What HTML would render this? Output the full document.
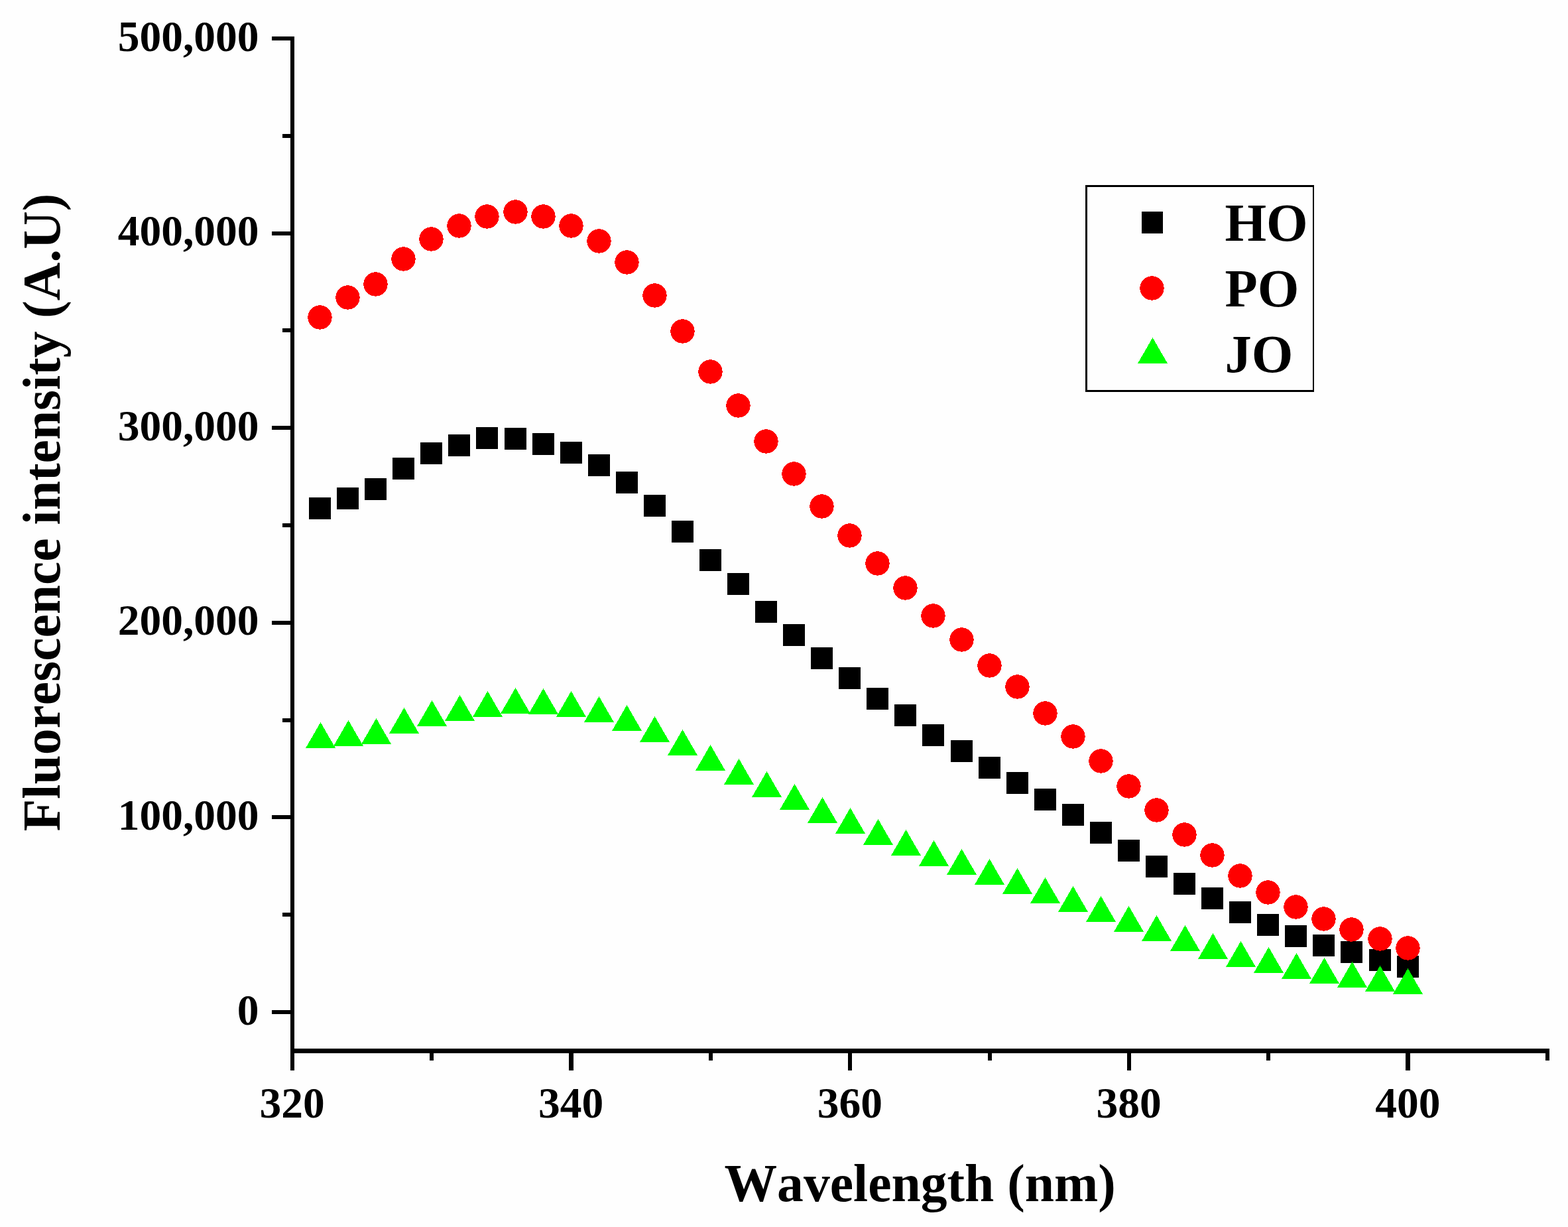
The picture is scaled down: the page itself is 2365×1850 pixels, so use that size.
<!DOCTYPE html>
<html><head><meta charset="utf-8"><style>
html,body{margin:0;padding:0;background:#fefefe;}
body{width:2365px;height:1850px;overflow:hidden;}
svg{display:block;}
text{font-family:"Liberation Serif","Times New Roman",serif;font-weight:bold;fill:#000;font-kerning:none;}
.t{font-size:65.5px;}
.ti{font-size:79.6px;}
.lg{font-size:80.5px;}
</style></head><body>
<svg width="2365" height="1850" viewBox="0 0 2365 1850">
<rect width="2365" height="1850" fill="#fefefe"/>
<rect x="438" y="55" width="6" height="1559" fill="#000"/>
<rect x="438" y="1581" width="1899" height="7" fill="#000"/>
<rect x="410" y="1523" width="30" height="6" fill="#000"/>
<rect x="410" y="1229" width="30" height="6" fill="#000"/>
<rect x="410" y="936" width="30" height="6" fill="#000"/>
<rect x="410" y="642" width="30" height="6" fill="#000"/>
<rect x="410" y="349" width="30" height="6" fill="#000"/>
<rect x="410" y="55" width="30" height="6" fill="#000"/>
<rect x="426" y="1376" width="14" height="6" fill="#000"/>
<rect x="426" y="1083" width="14" height="6" fill="#000"/>
<rect x="426" y="789" width="14" height="6" fill="#000"/>
<rect x="426" y="495" width="14" height="6" fill="#000"/>
<rect x="426" y="202" width="14" height="6" fill="#000"/>
<rect x="438" y="1584" width="6" height="30" fill="#000"/>
<rect x="858" y="1584" width="7" height="30" fill="#000"/>
<rect x="1279" y="1584" width="6" height="30" fill="#000"/>
<rect x="1700" y="1584" width="6" height="30" fill="#000"/>
<rect x="2120" y="1584" width="7" height="30" fill="#000"/>
<rect x="648" y="1584" width="6" height="15" fill="#000"/>
<rect x="1069" y="1584" width="6" height="15" fill="#000"/>
<rect x="1490" y="1584" width="6" height="15" fill="#000"/>
<rect x="1910" y="1584" width="6" height="15" fill="#000"/>
<rect x="2331" y="1584" width="6" height="15" fill="#000"/>
<text transform="translate(390.5,1544.6) scale(1,1.0)" text-anchor="end" class="t">0</text>
<text transform="translate(390.5,1251) scale(1,1.0)" text-anchor="end" class="t">100,000</text>
<text transform="translate(390.5,957.4) scale(1,1.0)" text-anchor="end" class="t">200,000</text>
<text transform="translate(390.5,663.8) scale(1,1.0)" text-anchor="end" class="t">300,000</text>
<text transform="translate(390.5,370.2) scale(1,1.0)" text-anchor="end" class="t">400,000</text>
<text transform="translate(390.5,76.6) scale(1,1.0)" text-anchor="end" class="t">500,000</text>
<text transform="translate(440.5,1684.8) scale(1,1.0)" text-anchor="middle" class="t">320</text>
<text transform="translate(861.2,1684.8) scale(1,1.0)" text-anchor="middle" class="t">340</text>
<text transform="translate(1281.9,1684.8) scale(1,1.0)" text-anchor="middle" class="t">360</text>
<text transform="translate(1702.6,1684.8) scale(1,1.0)" text-anchor="middle" class="t">380</text>
<text transform="translate(2123.3,1684.8) scale(1,1.0)" text-anchor="middle" class="t">400</text>
<text transform="translate(1092.5,1810.5) scale(1,1.0)" class="ti">Wavelength (nm)</text>
<text transform="translate(90,1253.3) rotate(-90)" class="ti">Fluorescence intensity (A.U)</text>
<g shape-rendering="crispEdges">
<rect x="466" y="750" width="33" height="33" fill="#000"/>
<rect x="508" y="735" width="33" height="33" fill="#000"/>
<rect x="550" y="721" width="33" height="33" fill="#000"/>
<rect x="592" y="690" width="33" height="33" fill="#000"/>
<rect x="634" y="667" width="33" height="33" fill="#000"/>
<rect x="676" y="655" width="33" height="33" fill="#000"/>
<rect x="718" y="644" width="33" height="33" fill="#000"/>
<rect x="761" y="645" width="33" height="33" fill="#000"/>
<rect x="803" y="653" width="33" height="33" fill="#000"/>
<rect x="845" y="666" width="33" height="33" fill="#000"/>
<rect x="887" y="685" width="33" height="33" fill="#000"/>
<rect x="929" y="711" width="33" height="33" fill="#000"/>
<rect x="971" y="746" width="33" height="33" fill="#000"/>
<rect x="1013" y="785" width="33" height="33" fill="#000"/>
<rect x="1055" y="828" width="33" height="33" fill="#000"/>
<rect x="1097" y="864" width="33" height="33" fill="#000"/>
<rect x="1139" y="906" width="33" height="33" fill="#000"/>
<rect x="1181" y="941" width="33" height="33" fill="#000"/>
<rect x="1223" y="976" width="33" height="33" fill="#000"/>
<rect x="1265" y="1006" width="33" height="33" fill="#000"/>
<rect x="1307" y="1037" width="33" height="33" fill="#000"/>
<rect x="1349" y="1062" width="33" height="33" fill="#000"/>
<rect x="1391" y="1092" width="33" height="33" fill="#000"/>
<rect x="1434" y="1116" width="33" height="33" fill="#000"/>
<rect x="1476" y="1141" width="33" height="33" fill="#000"/>
<rect x="1518" y="1164" width="33" height="33" fill="#000"/>
<rect x="1560" y="1189" width="33" height="33" fill="#000"/>
<rect x="1602" y="1212" width="33" height="33" fill="#000"/>
<rect x="1644" y="1239" width="33" height="33" fill="#000"/>
<rect x="1686" y="1266" width="33" height="33" fill="#000"/>
<rect x="1728" y="1290" width="33" height="33" fill="#000"/>
<rect x="1770" y="1316" width="33" height="33" fill="#000"/>
<rect x="1812" y="1338" width="33" height="33" fill="#000"/>
<rect x="1854" y="1359" width="33" height="33" fill="#000"/>
<rect x="1896" y="1378" width="33" height="33" fill="#000"/>
<rect x="1938" y="1395" width="33" height="33" fill="#000"/>
<rect x="1980" y="1409" width="33" height="33" fill="#000"/>
<rect x="2022" y="1419" width="33" height="33" fill="#000"/>
<rect x="2065" y="1431" width="33" height="33" fill="#000"/>
<rect x="2107" y="1441" width="33" height="33" fill="#000"/>
<circle cx="482.5" cy="478.5" r="18.2" fill="#f00"/>
<circle cx="524.5" cy="448.5" r="18.2" fill="#f00"/>
<circle cx="566.5" cy="428.5" r="18.2" fill="#f00"/>
<circle cx="608.5" cy="390.5" r="18.2" fill="#f00"/>
<circle cx="650.5" cy="360.5" r="18.2" fill="#f00"/>
<circle cx="692.5" cy="340.5" r="18.2" fill="#f00"/>
<circle cx="734.5" cy="326.5" r="18.2" fill="#f00"/>
<circle cx="777.5" cy="319.5" r="18.2" fill="#f00"/>
<circle cx="819.5" cy="326.5" r="18.2" fill="#f00"/>
<circle cx="861.5" cy="340.5" r="18.2" fill="#f00"/>
<circle cx="903.5" cy="363.5" r="18.2" fill="#f00"/>
<circle cx="945.5" cy="395.5" r="18.2" fill="#f00"/>
<circle cx="987.5" cy="445.5" r="18.2" fill="#f00"/>
<circle cx="1029.5" cy="499.5" r="18.2" fill="#f00"/>
<circle cx="1071.5" cy="560.5" r="18.2" fill="#f00"/>
<circle cx="1113.5" cy="611.5" r="18.2" fill="#f00"/>
<circle cx="1155.5" cy="665.5" r="18.2" fill="#f00"/>
<circle cx="1197.5" cy="714.5" r="18.2" fill="#f00"/>
<circle cx="1239.5" cy="763.5" r="18.2" fill="#f00"/>
<circle cx="1281.5" cy="807.5" r="18.2" fill="#f00"/>
<circle cx="1323.5" cy="849.5" r="18.2" fill="#f00"/>
<circle cx="1365.5" cy="886.5" r="18.2" fill="#f00"/>
<circle cx="1407.5" cy="928.5" r="18.2" fill="#f00"/>
<circle cx="1450.5" cy="964.5" r="18.2" fill="#f00"/>
<circle cx="1492.5" cy="1003.5" r="18.2" fill="#f00"/>
<circle cx="1534.5" cy="1035.5" r="18.2" fill="#f00"/>
<circle cx="1576.5" cy="1075.5" r="18.2" fill="#f00"/>
<circle cx="1618.5" cy="1110.5" r="18.2" fill="#f00"/>
<circle cx="1660.5" cy="1147.5" r="18.2" fill="#f00"/>
<circle cx="1702.5" cy="1185.5" r="18.2" fill="#f00"/>
<circle cx="1744.5" cy="1221.5" r="18.2" fill="#f00"/>
<circle cx="1786.5" cy="1258.5" r="18.2" fill="#f00"/>
<circle cx="1828.5" cy="1289.5" r="18.2" fill="#f00"/>
<circle cx="1870.5" cy="1320.5" r="18.2" fill="#f00"/>
<circle cx="1912.5" cy="1345.5" r="18.2" fill="#f00"/>
<circle cx="1954.5" cy="1367.5" r="18.2" fill="#f00"/>
<circle cx="1996.5" cy="1385.5" r="18.2" fill="#f00"/>
<circle cx="2038.5" cy="1401.5" r="18.2" fill="#f00"/>
<circle cx="2081.5" cy="1415.5" r="18.2" fill="#f00"/>
<circle cx="2123.5" cy="1429.5" r="18.2" fill="#f00"/>
<path d="M483.5 1089L506 1128L461 1128Z" fill="#0f0"/>
<path d="M525.5 1086L548 1125L503 1125Z" fill="#0f0"/>
<path d="M567.5 1083L590 1122L545 1122Z" fill="#0f0"/>
<path d="M609.5 1067L632 1106L587 1106Z" fill="#0f0"/>
<path d="M651.5 1056L674 1095L629 1095Z" fill="#0f0"/>
<path d="M693.5 1048L716 1087L671 1087Z" fill="#0f0"/>
<path d="M735.5 1042L758 1081L713 1081Z" fill="#0f0"/>
<path d="M777.5 1037L800 1076L755 1076Z" fill="#0f0"/>
<path d="M819.5 1038L842 1077L797 1077Z" fill="#0f0"/>
<path d="M861.5 1042L884 1081L839 1081Z" fill="#0f0"/>
<path d="M903.5 1050L926 1089L881 1089Z" fill="#0f0"/>
<path d="M945.5 1063L968 1102L923 1102Z" fill="#0f0"/>
<path d="M987.5 1080L1010 1119L965 1119Z" fill="#0f0"/>
<path d="M1029.5 1100L1052 1139L1007 1139Z" fill="#0f0"/>
<path d="M1071.5 1123L1094 1162L1049 1162Z" fill="#0f0"/>
<path d="M1114.5 1144L1137 1183L1092 1183Z" fill="#0f0"/>
<path d="M1156.5 1163L1179 1202L1134 1202Z" fill="#0f0"/>
<path d="M1198.5 1182L1221 1221L1176 1221Z" fill="#0f0"/>
<path d="M1240.5 1202L1263 1241L1218 1241Z" fill="#0f0"/>
<path d="M1282.5 1218L1305 1257L1260 1257Z" fill="#0f0"/>
<path d="M1324.5 1235L1347 1274L1302 1274Z" fill="#0f0"/>
<path d="M1366.5 1251L1389 1290L1344 1290Z" fill="#0f0"/>
<path d="M1408.5 1267L1431 1306L1386 1306Z" fill="#0f0"/>
<path d="M1450.5 1280L1473 1319L1428 1319Z" fill="#0f0"/>
<path d="M1492.5 1295L1515 1334L1470 1334Z" fill="#0f0"/>
<path d="M1534.5 1309L1557 1348L1512 1348Z" fill="#0f0"/>
<path d="M1576.5 1323L1599 1362L1554 1362Z" fill="#0f0"/>
<path d="M1618.5 1336L1641 1375L1596 1375Z" fill="#0f0"/>
<path d="M1660.5 1351L1683 1390L1638 1390Z" fill="#0f0"/>
<path d="M1702.5 1366L1725 1405L1680 1405Z" fill="#0f0"/>
<path d="M1744.5 1380L1767 1419L1722 1419Z" fill="#0f0"/>
<path d="M1787.5 1395L1810 1434L1765 1434Z" fill="#0f0"/>
<path d="M1829.5 1407L1852 1446L1807 1446Z" fill="#0f0"/>
<path d="M1871.5 1419L1894 1458L1849 1458Z" fill="#0f0"/>
<path d="M1913.5 1428L1936 1467L1891 1467Z" fill="#0f0"/>
<path d="M1955.5 1437L1978 1476L1933 1476Z" fill="#0f0"/>
<path d="M1997.5 1444L2020 1483L1975 1483Z" fill="#0f0"/>
<path d="M2039.5 1450L2062 1489L2017 1489Z" fill="#0f0"/>
<path d="M2081.5 1456L2104 1495L2059 1495Z" fill="#0f0"/>
<path d="M2123.5 1460L2146 1499L2101 1499Z" fill="#0f0"/>
</g>
<rect x="1637" y="279" width="345" height="312" fill="#000"/>
<rect x="1640" y="282" width="340" height="306" fill="#fefefe"/>
<g shape-rendering="crispEdges"><rect x="1722" y="319" width="32" height="33" fill="#000"/>
<circle cx="1737.5" cy="434.5" r="18.2" fill="#f00"/>
<path d="M1738.5 509L1761 548L1716 548Z" fill="#0f0"/></g>
<text transform="translate(1847.5,362.9) scale(1,1.0)" class="lg">HO</text>
<text transform="translate(1847.5,461.8) scale(1,1.0)" class="lg">PO</text>
<text transform="translate(1847.5,561.0) scale(1,1.0)" class="lg">JO</text>
</svg>
</body></html>
